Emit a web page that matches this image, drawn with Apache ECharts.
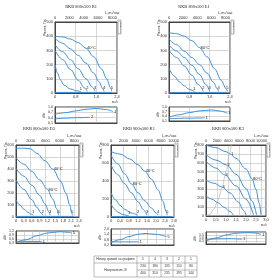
<!DOCTYPE html>
<html><head><meta charset="utf-8">
<script src="https://cdn.jsdelivr.net/npm/echarts@6/dist/echarts.min.js"></script>
<style>html,body{margin:0;padding:0;background:#fff}#c{width:280px;height:280px}</style>
</head><body><div id="c"></div>
<script>
// ---------- DATA ----------
const titles = ['RKB 800x500 B1','RKB 800x500 E1','RKB 800x500 D3','RKB 800x500 K1','RKB 800x500 K3'];
// chart 1 (B1): pressure, Pa vs flow m3/s
const b1_c5 = [[0,400],[0.3,395],[0.6,380],[0.9,355],[1.2,315],[1.5,255],[1.8,170],[2.0,100],[2.15,35],[2.2,12]];
const b1_c4 = [[0,385],[0.3,350],[0.6,310],[0.9,265],[1.2,210],[1.5,140],[1.7,80],[1.85,30],[1.9,12]];
const b1_c3 = [[0,340],[0.3,290],[0.6,235],[0.9,170],[1.2,100],[1.45,40],[1.55,12]];
const b1_c2 = [[0,300],[0.3,235],[0.6,165],[0.9,90],[1.15,35],[1.25,12]];
const b1_c1 = [[0,200],[0.1,140],[0.2,95],[0.35,55],[0.6,28],[0.85,15],[1.0,10]];
const b1_base = [[0,4],[2.2,4]];
const b1_p1 = [[0,0.59],[0.4,0.68],[0.8,0.78],[1.2,0.87],[1.6,0.92],[2.0,0.85],[2.25,0.74]];
const b1_p2 = [[0,0.33],[0.4,0.37],[0.8,0.4],[1.35,0.42]];
// chart 2 (E1)
const e1_c5 = [[0,425],[0.3,418],[0.6,400],[0.9,368],[1.2,320],[1.5,255],[1.8,170],[2.05,90],[2.25,30],[2.3,12]];
const e1_c4 = [[0,380],[0.3,340],[0.6,295],[0.9,250],[1.2,200],[1.5,140],[1.75,75],[1.9,30],[1.95,12]];
const e1_c3 = [[0,338],[0.3,295],[0.6,250],[0.9,195],[1.2,130],[1.45,60],[1.6,12]];
const e1_c2 = [[0,300],[0.3,250],[0.6,190],[0.9,125],[1.15,60],[1.35,12]];
const e1_c1 = [[0,175],[0.2,120],[0.4,80],[0.6,50],[0.8,25],[1.0,10]];
const e1_base = [[0,4],[2.3,4]];
const e1_p1 = [[0,0.34],[0.4,0.5],[0.8,0.64],[1.2,0.75],[1.68,0.81],[2.0,0.74],[2.3,0.6]];
const e1_p2 = [[0,0.25],[0.6,0.28],[1.4,0.3]];
// chart 3 (D3)
const d3_c5 = [[0,572],[0.3,574],[0.55,568],[0.8,530],[1.1,470],[1.4,400],[1.7,300],[1.9,200],[2.05,100],[2.12,35],[2.15,15]];
const d3_c4 = [[0,494],[0.3,440],[0.6,380],[0.9,310],[1.2,230],[1.4,150],[1.55,70],[1.62,15]];
const d3_c3 = [[0,405],[0.3,340],[0.6,265],[0.9,180],[1.1,110],[1.25,45],[1.3,15]];
const d3_c2 = [[0,308],[0.3,230],[0.6,145],[0.8,80],[0.95,35],[1.02,15]];
const d3_c1 = [[0,142],[0.15,100],[0.3,65],[0.45,40],[0.6,22],[0.66,15]];
const d3_base = [[0,5],[2.2,5]];
const d3_p5 = [[0,0.35],[0.4,0.55],[0.8,0.85],[1.2,1.05],[1.68,1.15],[2.0,1.1],[2.12,1.05]];
const d3_p1 = [[0,0.42],[0.5,0.42],[0.98,0.42]];
// chart 4 (K1)
const k1_c5 = [[0,726],[0.4,700],[0.84,644],[1.2,580],[1.5,510],[1.8,420],[2.1,300],[2.3,180],[2.45,60],[2.5,20]];
const k1_c4 = [[0,689],[0.3,590],[0.6,480],[0.92,365],[1.2,270],[1.5,180],[1.8,100],[2.0,45],[2.1,20]];
const k1_c3 = [[0,578],[0.3,470],[0.6,370],[0.9,270],[1.2,170],[1.45,80],[1.6,20]];
const k1_c2 = [[0,270],[0.2,190],[0.4,130],[0.6,85],[0.9,45],[1.2,20]];
const k1_c1 = [[0,150],[0.15,90],[0.3,55],[0.5,30],[0.7,18],[0.8,12]];
const k1_base = [[0,6],[2.7,6]];
const k1_p5 = [[0,0.45],[0.4,0.8],[0.8,1.15],[1.2,1.4],[1.51,1.5],[2.0,1.4],[2.47,1.15]];
const k1_p1 = [[0,0.55],[0.6,0.55],[1.22,0.55]];
// chart 5 (K3)
const k3_c1 = [[0,800],[0.5,770],[1.0,725],[1.2,700],[1.5,650],[2.0,530],[2.3,420],[2.5,300],[2.65,150],[2.75,10]];
const k3_c2 = [[0,691],[0.5,630],[1.03,575],[1.5,470],[2.0,310],[2.3,170],[2.53,10]];
const k3_c3 = [[0,616],[0.5,540],[0.92,465],[1.5,340],[2.0,190],[2.38,10]];
const k3_c4 = [[0,400],[0.4,370],[0.78,330],[1.2,260],[1.6,160],[1.9,60],[2.0,10]];
const k3_c5 = [[0,228],[0.3,190],[0.6,150],[0.9,100],[1.2,50],[1.37,10]];
const k3_sys = [[0,0],[0.2,20],[0.4,80],[0.6,180],[0.8,320],[1.0,500],[1.2,720],[1.26,800]];
const k3_p1 = [[0,0.5],[0.5,1.0],[1.0,1.5],[1.5,1.8],[2.03,1.9],[2.4,1.85],[2.75,1.6]];
const k3_p2 = [[0,0.75],[0.6,0.85],[1.2,0.88],[1.8,0.8]];
// table
const tableHead = 'Номер кривой на графике';
const tableVoltLabel = 'Напряжение, В';
const tableCurves = ['5','4','3','2','1'];
const tableVolt1 = ['230','180','135','110','80'];
const tableVolt2 = ['400','310','235','195','140'];

// ---------- LAYOUT ----------
const BLUE = '#3d8fd6';
const FONT = 'Liberation Sans';
const titlePos = [[81,7],[194,7],[39,129],[139,129],[228,129]];
const charts = [
 {main:[55,22,62,71], sub:[55,107,62,16], xMax:2.4, xInt:0.8, yMax:500, yInt:100, sMin:0.1, sMax:1.0, sInt:0.3, gridTop:false,
  curves:[{d:b1_c5,l:{9:['5','top'],4:['40°C','right']}},{d:b1_c4,l:{8:['4','top']}},{d:b1_c3,l:{6:['3','top']}},{d:b1_c2,l:{5:['2','top']}},{d:b1_c1,l:{6:['1','top']}}],
  base:b1_base, power:[{d:b1_p1,l:{6:['1','right']}},{d:b1_p2,l:{3:['2','right']}}]},
 {main:[169,22,61,71], sub:[169,107,61,14], xMax:2.4, xInt:0.8, yMax:500, yInt:100, sMin:0.1, sMax:1.0, sInt:0.3, gridTop:false,
  curves:[{d:e1_c5,l:{9:['5','top'],4:['80°C','right']}},{d:e1_c4,l:{8:['4','top']}},{d:e1_c3,l:{6:['3','top']}},{d:e1_c2,l:{5:['2','top']}},{d:e1_c1,l:{5:['1','top']}}],
  base:e1_base, power:[{d:e1_p1,l:{6:['1','right']}},{d:e1_p2,l:{2:['1','right']}}]},
 {main:[16,145,63,72], sub:[16,231,63,12], xMax:2.4, xInt:0.3, yMax:600, yInt:100, sMin:0.3, sMax:1.2, sInt:0.3, gridTop:true,
  curves:[{d:d3_c5,l:{10:['5','top'],5:['40°C','right']}},{d:d3_c4,l:{7:['4','top'],4:['80°C','right']}},{d:d3_c3,l:{6:['3','top']}},{d:d3_c2,l:{5:['2','top']}},{d:d3_c1,l:{5:['1','top']}}],
  base:d3_base, power:[{d:d3_p5,l:{6:['5','right']}},{d:d3_p1,l:{2:['1','right']}}]},
 {main:[111,145,63,72], sub:[111,229,63,16], xMax:2.8, xInt:0.4, yMax:800, yInt:200, sMin:0.2, sMax:2.0, sInt:0.6, gridTop:true,
  curves:[{d:k1_c5,l:{9:['5','top'],4:['40°C','right']}},{d:k1_c4,l:{8:['4','top'],3:['80°C','right']}},{d:k1_c3,l:{6:['3','top']}},{d:k1_c2,l:{5:['2','top']}},{d:k1_c1,l:{5:['1','top']}}],
  base:k1_base, power:[{d:k1_p5,l:{6:['5','right']}},{d:k1_p1,l:{2:['1','right']}}]},
 {main:[206,145,60,71], sub:[206,232,60,12], xMax:3.0, xInt:0.5, yMax:800, yInt:100, sMin:0, sMax:2.0, sInt:0.5, gridTop:true,
  curves:[{d:k3_c1,l:{3:['1','right'],6:['80°C','right']}},{d:k3_c2,l:{2:['2','right']}},{d:k3_c3,l:{2:['3','right']}},{d:k3_c4,l:{2:['4','right']}},{d:k3_c5,l:{}}],
  base:null, sys:k3_sys, power:[{d:k3_p1,l:{6:['1','right']}},{d:k3_p2,l:{3:['1','right']}}]}
];

function fmt(d){ return v => (Math.abs(v) < 1e-9 ? '0' : v.toFixed(d).replace('.', ',')); }
function mk(d, xi, yi, labels, color, width){
  return {type:'line', xAxisIndex:xi, yAxisIndex:yi, smooth:0.35, smoothMonotone:'x', symbol:'circle', symbolSize:0, showSymbol:true, silent:true, z:3,
    lineStyle:{color:color||BLUE, width:width||1}, itemStyle:{color:color||BLUE},
    data: d.map((p,i)=> labels && labels[i] ? {value:p, label:{show:true, formatter:labels[i][0], position:labels[i][1], distance:1, fontSize:4, color:'#222', fontFamily:FONT}} : p)};
}

const option = {animation:false, grid:[], xAxis:[], yAxis:[], series:[], graphic:[]};
const axisLine = {show:true, onZero:false, lineStyle:{color:'#444', width:1}};
const split = {show:true, lineStyle:{color:'#bdbdbd', width:0.6}};
const lbl = {fontSize:4, color:'#333', margin:2, fontFamily:FONT};

charts.forEach((c,k)=>{
  const [l,t,w,h] = c.main; const [sl,st,sw,sh] = c.sub;
  option.grid.push({left:l, top:t, width:w, height:h, show:true, borderColor:'#444', borderWidth:1});
  option.grid.push({left:sl, top:st, width:sw, height:sh, show:true, borderColor:'#444', borderWidth:1});
  const dec = c.xInt < 1 ? 1 : 0;
  option.xAxis.push({type:'value', gridIndex:2*k, min:0, max:c.xMax, interval:c.xInt, position:'bottom', axisLine, axisTick:{show:false},
    axisLabel:{...lbl, formatter:fmt(dec)}, splitLine: c.gridTop ? {show:false} : split});
  option.xAxis.push({type:'value', gridIndex:2*k, min:0, max:c.xMax*3600, interval:2000, position:'top', axisLine, axisTick:{show:false},
    axisLabel:{...lbl, showMaxLabel:false, formatter: v => String(Math.round(v))}, splitLine: c.gridTop ? split : {show:false}});
  option.xAxis.push({type:'value', gridIndex:2*k+1, min:0, max:c.xMax, interval:c.xInt, axisLine, axisTick:{show:false},
    axisLabel:{show:false}, splitLine:split});
  option.yAxis.push({type:'value', gridIndex:2*k, min:0, max:c.yMax, interval:c.yInt, axisLine, axisTick:{show:false},
    axisLabel:{...lbl, formatter: v => String(Math.round(v))}, splitLine:split});
  option.yAxis.push({type:'value', gridIndex:2*k+1, min:c.sMin, max:c.sMax, interval:c.sInt, axisLine, axisTick:{show:false},
    axisLabel:{...lbl, fontSize:3.6, formatter:fmt(1)}, splitLine:split});
  c.curves.forEach(cv => option.series.push(mk(cv.d, 3*k, 2*k, cv.l)));
  if (c.base) option.series.push(mk(c.base, 3*k, 2*k, null));
  if (c.sys) option.series.push(mk(c.sys, 3*k, 2*k, null, '#bbbbbb', 0.8));
  c.power.forEach(cv => option.series.push(mk(cv.d, 3*k+2, 2*k+1, cv.l)));
  // texts
  option.graphic.push({type:'text', x:titlePos[k][0], y:titlePos[k][1], style:{text:titles[k], fontFamily:'Liberation Serif', fontSize:4.4, fill:'#222', align:'center', verticalAlign:'middle'}});
  option.graphic.push({type:'text', x:l - 12, y:t + 14, rotation:Math.PI/2, style:{text:'Pполн, Па', fontSize:3.5, fontFamily:FONT, fill:'#333'}});
  option.graphic.push({type:'text', x:l + w - 12, y:t - 11, style:{text:'L,m³/час', fontSize:3.8, fontFamily:FONT, fill:'#333'}});
  option.graphic.push({type:'text', x:l + w - 5, y:t + h + 7, style:{text:'м³/с', fontSize:3.5, fontFamily:FONT, fill:'#333'}});
  option.graphic.push({type:'text', x:sl - 13, y:st + sh/2 + 3, rotation:Math.PI/2, style:{text:'кВт', fontSize:3.5, fontFamily:FONT, fill:'#333'}});
  option.graphic.push({type:'rect', shape:{x:l + w + 1, y:t - 2, width:3, height:14}, style:{fill:'none', stroke:'#666', lineWidth:0.5}});
  option.graphic.push({type:'text', x:l + w + 1.5, y:t + 11, rotation:Math.PI/2, style:{text:'ρ=1,2кг/м³', fontSize:2.5, fontFamily:FONT, fill:'#333'}});
});

// table
const T = {x0:94, y0:256, w0:43, cw:12, rh:7};
const tw = T.w0 + T.cw * tableCurves.length;
const line = (x1,y1,x2,y2)=>({type:'line', shape:{x1,y1,x2,y2}, style:{stroke:'#777', lineWidth:0.5}});
option.graphic.push({type:'rect', shape:{x:T.x0, y:T.y0, width:tw, height:T.rh*3}, style:{fill:'none', stroke:'#777', lineWidth:0.5}});
option.graphic.push(line(T.x0, T.y0+T.rh, T.x0+tw, T.y0+T.rh));
option.graphic.push(line(T.x0+T.w0, T.y0+2*T.rh, T.x0+tw, T.y0+2*T.rh));
for (let i=0;i<tableCurves.length;i++){
  const x = T.x0 + T.w0 + i*T.cw;
  option.graphic.push(line(x, T.y0, x, T.y0+3*T.rh));
  const cs = {fontSize:3.3, fontFamily:FONT, fill:'#333', align:'center', verticalAlign:'middle'};
  option.graphic.push({type:'text', x:x+T.cw/2, y:T.y0+T.rh*0.5, style:{text:tableCurves[i], ...cs}});
  option.graphic.push({type:'text', x:x+T.cw/2, y:T.y0+T.rh*1.5, style:{text:tableVolt1[i], ...cs}});
  option.graphic.push({type:'text', x:x+T.cw/2, y:T.y0+T.rh*2.5, style:{text:tableVolt2[i], ...cs}});
}
option.graphic.push({type:'text', x:T.x0+T.w0/2, y:T.y0+T.rh*0.5, style:{text:tableHead, fontSize:3.2, fontFamily:FONT, fill:'#333', align:'center', verticalAlign:'middle'}});
option.graphic.push({type:'text', x:T.x0+T.w0/2, y:T.y0+T.rh*2, style:{text:tableVoltLabel, fontSize:3.2, fontFamily:FONT, fill:'#333', align:'center', verticalAlign:'middle'}});

const chart = echarts.init(document.getElementById('c'), null, {renderer:'canvas'});
chart.setOption(option);
</script>
</body></html>
